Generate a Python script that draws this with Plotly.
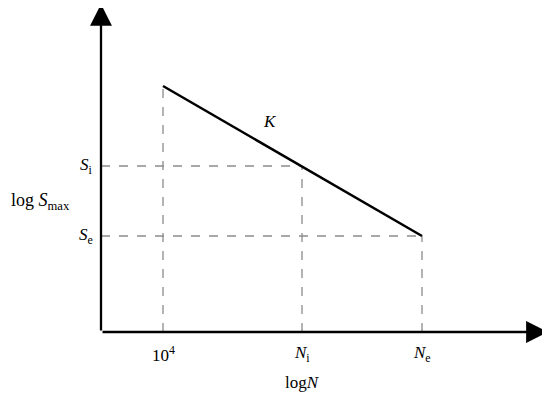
import plotly.graph_objects as go

# schematic S-N curve, arbitrary log units (axis origin at 0, 0)
n_pos = [6.2, 20.1, 32.1]          # 10^4, Ni, Ne
n_text = ["10<sup>4</sup>", "<i>N</i><sub>i</sub>", "<i>N</i><sub>e</sub>"]
s_pos = [24.6, 16.6, 9.6]          # curve start, Si, Se
s_text = ["", "<i>S</i><sub>i</sub>", "<i>S</i><sub>e</sub>"]
x_end, y_end = 44.7, 32.8          # arrow tips

FONT = "Liberation Serif"
DASH = dict(color="#8c8c8c", width=1.3, dash="dash")

fig = go.Figure()

# dashed guide lines
for i in range(3):
    fig.add_trace(go.Scatter(x=[n_pos[i], n_pos[i]], y=[0, s_pos[i]], mode="lines",
                             line=DASH, hoverinfo="skip"))
for i in (1, 2):
    fig.add_trace(go.Scatter(x=[0, n_pos[i]], y=[s_pos[i], s_pos[i]], mode="lines",
                             line=DASH, hoverinfo="skip"))

# S-N line
fig.add_trace(go.Scatter(x=[n_pos[0], n_pos[2]], y=[s_pos[0], s_pos[2]], mode="lines",
                         line=dict(color="black", width=2.5), hoverinfo="skip"))

# axes with arrows
arrow = dict(showarrow=True, arrowhead=2, arrowsize=1.9, arrowwidth=2.3,
             arrowcolor="black", axref="x", ayref="y", text="", standoff=0)
fig.add_annotation(x=x_end, y=0, ax=0, ay=0, **arrow)
fig.add_annotation(x=0, y=y_end, ax=0, ay=0, **arrow)

font = dict(family=FONT, size=17, color="black")
for x, t in zip(n_pos, n_text):
    fig.add_annotation(x=x, y=-0.9, text=t, showarrow=False, yanchor="top", font=font)
for y, t in zip(s_pos[1:], s_text[1:]):
    fig.add_annotation(x=-0.6, y=y, text=t, showarrow=False, xanchor="right", font=font)

fig.add_annotation(x=20.1, y=-3.9, text="log<i>N</i>", showarrow=False, yanchor="top", font=font)
fig.add_annotation(x=-6.1, y=13.1, text="log <i>S</i><sub>max</sub>", showarrow=False,
                   font=dict(family=FONT, size=18, color="black"))
fig.add_annotation(x=16.9, y=21.1, text="<i>K</i>", showarrow=False, font=font)

# page has an 8px body margin, so ranges are shifted to keep the origin in place
fig.update_layout(
    width=550, height=394, margin=dict(l=0, r=0, t=0, b=0),
    paper_bgcolor="white", plot_bgcolor="white", showlegend=False,
    font=dict(family=FONT),
    xaxis=dict(range=[-9.3, 45.7], visible=False, fixedrange=True),
    yaxis=dict(range=[-7.0, 32.4], visible=False, fixedrange=True),
)

fig.write_html("out.html")
